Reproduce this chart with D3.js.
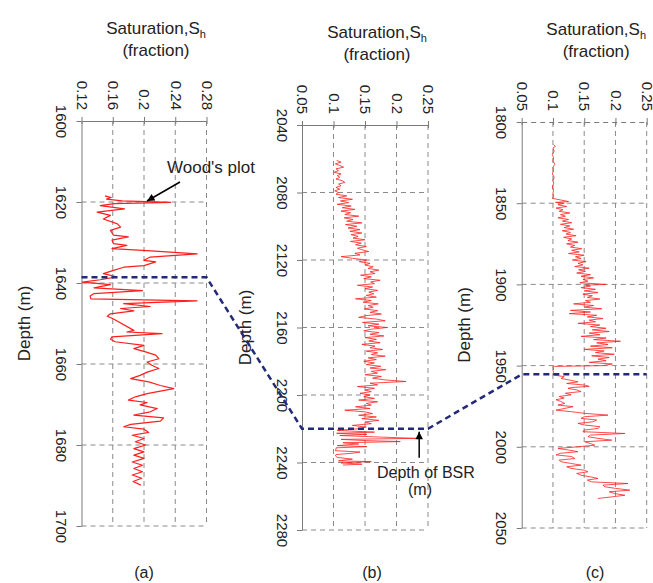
<!DOCTYPE html>
<html>
<head>
<meta charset="utf-8">
<script src="https://cdn.jsdelivr.net/npm/d3@7"></script>
<style>
  html, body { margin: 0; padding: 0; background: #fff; }
  svg text { font-family: "Liberation Sans", Arial, sans-serif; fill: #222; }
</style>
</head>
<body>
<script>
// ---- Well (a): hydrate saturation from Wood's plot ----
const depthA = [1618.5,1618.9,1619.3,1619.7,1620.1,1620.4,1620.9,1621.7,1622.5,1623.3,1624.2,1625.4,1626.2,1627.0,1628.2,1628.6,1629.4,1630.3,1630.7,1631.5,1632.0,1632.8,1633.6,1634.4,1634.8,1635.7,1636.1,1636.9,1637.7,1638.5,1639.2,1639.8,1640.4,1641.2,1641.9,1642.6,1643.2,1643.9,1644.4,1645.1,1645.8,1646.3,1646.9,1647.6,1648.2,1648.9,1651.7,1652.1,1652.5,1653.3,1653.9,1654.5,1655.4,1656.2,1657.0,1657.8,1658.7,1659.5,1660.3,1661.1,1662.0,1662.8,1663.6,1664.4,1665.3,1666.1,1666.7,1667.3,1668.1,1668.9,1669.5,1670.1,1671.0,1671.8,1672.6,1673.3,1674.1,1674.9,1675.5,1676.1,1676.9,1677.6,1678.4,1679.2,1680.0,1680.9,1681.7,1682.5,1683.3,1684.2,1685.0,1685.8,1686.6,1687.4,1688.2,1689.0,1689.9];
const satA = [0.150,0.158,0.152,0.172,0.234,0.162,0.144,0.175,0.140,0.157,0.148,0.166,0.170,0.157,0.161,0.180,0.159,0.161,0.178,0.159,0.204,0.268,0.208,0.200,0.215,0.200,0.174,0.161,0.148,0.165,0.144,0.121,0.157,0.136,0.198,0.136,0.131,0.132,0.268,0.174,0.208,0.170,0.187,0.157,0.153,0.161,0.187,0.178,0.223,0.159,0.157,0.163,0.200,0.187,0.202,0.215,0.219,0.204,0.210,0.219,0.204,0.195,0.183,0.206,0.221,0.238,0.221,0.204,0.189,0.180,0.204,0.195,0.217,0.208,0.187,0.225,0.221,0.183,0.174,0.200,0.206,0.185,0.200,0.189,0.202,0.187,0.200,0.187,0.200,0.185,0.198,0.187,0.198,0.185,0.197,0.186,0.196];

// ---- Well (b) ----
const depthB = [2061,2062,2063,2064,2065,2066,2067,2068,2069,2070,2071,2072,2073,2074,2075,2076,2077,2078,2079,2080,
  2081,2082,2083,2084,2085,2086,2087,2088,2089,2090,2091,2092,2093,2094,2095,2096,2097,2098,2099,2100,
  2101,2102,2103,2104,2105,2106,2107,2108,2109,2110,2111,2112,2113,2114,2115,2116,2117,2118,2119,2120,2121,
  2122,2123,2124,2125,2126,2127,2128,2129,2130,2131,2132,2133,2134,2135,2136,2137,2138,2139,2140,
  2141,2142,2143,2144,2145,2146,2147,2148,2149,2150,2151,2152,2153,2154,2155,2156,2157,2158,2159,2160,
  2161,2162,2163,2164,2165,2166,2167,2168,2169,2170,2171,2172,2173,2174,2175,2176,2177,2178,2179,2180,
  2181,2182,2183,2184,2185,2186,2187,2188,2189,2190,2191,2192,2193,2194,2195,2196,2197,2198,2199,2200,
  2201,2202,2203,2204,2205,2206,2207,2208,2209,2210,2211,2212,2213,2214,2215,2216,2217,2218,2219,2220,
  2221,2222,2222.7,2223.3,2224,2225,2225.7,2226.3,2227,2227.6,2228.3,2229,2230,2230.6,2231.3,2232,2233,2233.8,2234.5,2235.3,2236,2237,2238,2239,2239.5,2240.2,2241,2241.5];
const satB = [0.105,0.112,0.103,0.110,0.116,0.104,0.108,0.101,0.112,0.106,0.110,0.104,0.114,0.118,0.108,0.112,0.104,0.110,0.102,0.108,
  0.104,0.121,0.108,0.130,0.111,0.124,0.106,0.128,0.114,0.134,0.112,0.127,0.118,0.140,0.117,0.131,0.121,0.145,0.119,0.137,
  0.123,0.142,0.126,0.145,0.128,0.139,0.131,0.150,0.127,0.144,0.135,0.152,0.138,0.146,0.156,0.134,0.142,0.112,0.130,0.153,0.141,
  0.158,0.150,0.163,0.155,0.172,0.158,0.166,0.143,0.160,0.148,0.174,0.159,0.165,0.138,0.162,0.150,0.170,0.156,0.164,
  0.152,0.168,0.135,0.160,0.147,0.171,0.155,0.163,0.149,0.170,0.158,0.176,0.151,0.140,0.168,0.182,0.146,0.172,0.155,0.185,
  0.160,0.148,0.172,0.158,0.180,0.150,0.168,0.156,0.174,0.145,0.166,0.158,0.178,0.152,0.170,0.160,0.182,0.155,0.168,0.148,
  0.165,0.152,0.175,0.158,0.183,0.160,0.170,0.150,0.176,0.162,0.180,0.215,0.158,0.170,0.138,0.165,0.150,0.160,0.142,0.158,
  0.148,0.165,0.140,0.170,0.152,0.160,0.135,0.158,0.118,0.150,0.162,0.140,0.168,0.145,0.172,0.150,0.160,0.130,0.152,0.140,
  0.106,0.165,0.105,0.153,0.110,0.180,0.232,0.112,0.150,0.206,0.115,0.140,0.106,0.153,0.104,0.104,0.103,0.142,0.130,0.104,0.103,0.106,0.130,0.108,0.160,0.112,0.145,0.115];

// ---- Well (c) ----
const depthC = [1814,1815,1816,1818,1820,1822,1824,1826,1828,1830,1832,1834,1836,1838,1840,1842,1844,1846,1847,
  1848,1849,1849.5,1850,
  1851,1852,1853,1854,1855,1856,1857,1858,1859,1860,1861,1862,1863,1864,1865,1866,1867,1868,1869,1870,1871,1872,1873,1874,1875,
  1876,1877,1878,1879,1880,1881,1882,1883,1884,1885,1886,1887,1888,1889,1890,1891,1892,1893,1894,1895,1896,1897,1898,1899,
  1900,1900.5,
  1901,1902,1903,1904,1905,1906,1907,1908,1909,1910,1911,1912,1913,1914,1915,1916,1917,1918,1919,1920,1921,1922,1923,1924,1925,
  1926,1927,1928,1929,1930,1931,1932,1933,1934,1935,1936,1937,1938,1939,1940,1941,1942,1943,1944,1945,1946,1947,1948,1949,1950,
  1950.5,1951,1952,1953,1954,1955,
  1955.8,1956.8,1957.9,1959,1960,1961,1962,1962.8,1963.5,1964,1965,1966,1967,1968,1969,1970,1971,1972,1973.3,1974.3,
  1975.3,1976.3,1977.4,1978.4,1979.4,1980.5,1981.5,1982.5,1983.5,1984.6,1985.6,1986.6,1987.6,1988.7,1989.7,1990.7,1991.8,1992.8,1993.8,1994.8,
  1995.9,1996.9,1998,1999,2000,2001,2002,2003,2004,2005,2006,2007.2,2008.2,2009.2,2010.2,2011.3,2012.3,2013.3,2014.4,2015.4,
  2016.4,2017.5,2018.5,2019.5,2020.5,2021.6,2022.6,2023.6,2024.6,2025.6,2026.7,2027.7,2028.8,2029.8,2030.8,2031.8];
const satC = [0.101,0.104,0.100,0.102,0.099,0.101,0.100,0.103,0.100,0.101,0.099,0.102,0.100,0.101,0.099,0.101,0.100,0.101,0.099,
  0.112,0.125,0.104,0.118,
  0.108,0.122,0.105,0.116,0.110,0.127,0.112,0.120,0.108,0.125,0.115,0.130,0.112,0.127,0.118,0.133,0.115,0.128,0.121,0.137,0.117,0.130,0.124,0.140,0.122,
  0.135,0.128,0.146,0.130,0.142,0.125,0.150,0.136,0.145,0.131,0.153,0.140,0.148,0.135,0.158,0.141,0.152,0.138,0.160,0.145,0.165,0.148,0.156,0.143,
  0.185,0.152,
  0.160,0.145,0.168,0.150,0.172,0.148,0.163,0.155,0.175,0.152,0.160,0.133,0.165,0.150,0.178,0.128,0.160,0.126,0.170,0.155,0.180,0.158,0.168,0.140,0.175,
  0.160,0.185,0.163,0.190,0.158,0.175,0.145,0.185,0.165,0.208,0.170,0.188,0.160,0.195,0.150,0.182,0.168,0.198,0.162,0.190,0.172,0.185,0.158,0.195,0.180,
  0.102,0.100,0.101,0.100,0.101,0.100,
  0.101,0.118,0.113,0.128,0.140,0.122,0.151,0.158,0.130,0.124,0.138,0.145,0.120,0.129,0.110,0.118,0.105,0.112,0.119,0.108,
  0.132,0.120,0.105,0.130,0.151,0.188,0.150,0.145,0.170,0.164,0.140,0.151,0.175,0.172,0.150,0.148,0.215,0.160,0.156,0.172,
  0.194,0.151,0.160,0.167,0.140,0.108,0.125,0.140,0.112,0.105,0.130,0.135,0.110,0.113,0.128,0.145,0.122,0.129,0.150,0.156,
  0.138,0.145,0.160,0.172,0.155,0.162,0.220,0.180,0.183,0.200,0.223,0.190,0.199,0.215,0.195,0.172];

// ---- Axis ticks, BSR depths, labels ----
const satTicksA = [0.12, 0.16, 0.2, 0.24, 0.28];
const satTicksB = [0.05, 0.1, 0.15, 0.2, 0.25];
const satTicksC = [0.05, 0.1, 0.15, 0.2, 0.25];
const depthTicksA = [1600, 1620, 1640, 1660, 1680, 1700];
const depthTicksB = [2040, 2080, 2120, 2160, 2200, 2240, 2280];
const depthTicksC = [1800, 1850, 1900, 1950, 2000, 2050];
const bsrDepths = [1638.6, 2220, 1955.4];
const panelLabels = ["(a)", "(b)", "(c)"];

// ---- Layout of the three tracks ----
const panels = [
  { left: 81.5, right: 206.5, top: 121, bottom: 526, depth: depthA, sat: satA, satTicks: satTicksA, depthTicks: depthTicksA, lw: 1.2, topDashed: false, labelX: 144 },
  { left: 302,  right: 428,   top: 125, bottom: 530, depth: depthB, sat: satB, satTicks: satTicksB, depthTicks: depthTicksB, lw: 0.8, topDashed: false, labelX: 372 },
  { left: 521.7, right: 646.7, top: 122, bottom: 528, depth: depthC, sat: satC, satTicks: satTicksC, depthTicks: depthTicksC, lw: 0.8, topDashed: true, labelX: 595 }
];

const W = 653, H = 583;
const gridColor = "#8a8a8a";
const axisColor = "#7a7a7a";
const traceColor = "#ff1e1e";
const bsrColor = "#232a78";

const svg = d3.select("body").append("svg").attr("width", W).attr("height", H);

const defs = svg.append("defs");
defs.append("marker")
  .attr("id", "head").attr("viewBox", "0 0 10 10")
  .attr("refX", 10).attr("refY", 5)
  .attr("markerWidth", 10).attr("markerHeight", 7.5)
  .attr("markerUnits", "userSpaceOnUse").attr("orient", "auto")
  .append("path").attr("d", "M0,0 L10,5 L0,10 z").attr("fill", "#000");

panels.forEach((p, i) => {
  const x = d3.scaleLinear().domain(d3.extent(p.satTicks)).range([p.left, p.right]);
  const y = d3.scaleLinear().domain(d3.extent(p.depthTicks)).range([p.top, p.bottom]);
  p.x = x; p.y = y;
  const g = svg.append("g");

  // dashed grid (includes right and bottom frame)
  g.append("g").selectAll("line").data(p.satTicks.slice(1)).join("line")
    .attr("x1", d => x(d)).attr("x2", d => x(d))
    .attr("y1", p.top).attr("y2", p.bottom)
    .attr("stroke", gridColor).attr("stroke-width", 1).attr("stroke-dasharray", "5,4");
  g.append("g").selectAll("line").data(p.depthTicks.slice(1)).join("line")
    .attr("x1", p.left).attr("x2", p.right)
    .attr("y1", d => y(d)).attr("y2", d => y(d))
    .attr("stroke", gridColor).attr("stroke-width", 1).attr("stroke-dasharray", "5,4");

  // top saturation axis, labels turned on their side
  const top = g.append("g").attr("transform", `translate(0,${p.top})`)
    .call(d3.axisTop(x).tickValues(p.satTicks).tickSize(4).tickSizeOuter(0).tickFormat(d => String(d)));
  top.select(".domain").attr("stroke", axisColor)
    .attr("stroke-dasharray", p.topDashed ? "5,4" : null);
  top.selectAll(".tick line").attr("stroke", axisColor).attr("y1", 3);
  top.selectAll(".tick text")
    .attr("transform", "rotate(90)").attr("x", -11).attr("y", 0).attr("dy", "0.35em")
    .attr("text-anchor", "end").attr("font-size", 15).attr("fill", "#222")
    .attr("font-family", "Liberation Sans, Arial, sans-serif");

  // left depth axis
  const left = g.append("g").attr("transform", `translate(${p.left},0)`)
    .call(d3.axisLeft(y).tickValues(p.depthTicks).tickSize(5).tickSizeOuter(0).tickFormat(d => String(d)));
  left.select(".domain").attr("stroke", axisColor);
  left.selectAll(".tick line").attr("stroke", axisColor);
  left.selectAll(".tick text")
    .attr("transform", "rotate(90)").attr("x", 0).attr("y", 25.5).attr("dy", null)
    .attr("text-anchor", "middle").attr("font-size", 15).attr("fill", "#222")
    .attr("font-family", "Liberation Sans, Arial, sans-serif");

  // saturation trace
  const pts = p.depth.map((d, k) => ({ depth: d, sh: p.sat[k] }));
  g.append("path").datum(pts)
    .attr("fill", "none").attr("stroke", traceColor).attr("stroke-width", p.lw)
    .attr("stroke-linejoin", "round")
    .attr("d", d3.line().x(d => x(d.sh)).y(d => y(d.depth)));

  // titles
  const cx = (p.left + p.right) / 2 + 12;
  const t = g.append("text").attr("x", cx).attr("y", p.top - 87)
    .attr("text-anchor", "middle").attr("font-size", 17);
  t.append("tspan").text("Saturation,S");
  t.append("tspan").attr("font-size", 11).attr("dy", 4).text("h");
  g.append("text").attr("x", cx).attr("y", p.top - 65)
    .attr("text-anchor", "middle").attr("font-size", 17).text("(fraction)");

  g.append("text")
    .attr("transform", `translate(${p.left - 51.5},${(p.top + p.bottom) / 2}) rotate(-90)`)
    .attr("text-anchor", "middle").attr("font-size", 17).text("Depth (m)");

  g.append("text").attr("x", p.labelX).attr("y", 578)
    .attr("text-anchor", "middle").attr("font-size", 16).text(panelLabels[i]);
});

// BSR correlation line across the three wells
const [pa, pb, pc] = panels;
const bsrPts = [
  [pa.x(satTicksA[0]), pa.y(bsrDepths[0])], [pa.x(satTicksA[4]), pa.y(bsrDepths[0])],
  [pb.x(satTicksB[0]), pb.y(bsrDepths[1])], [pb.x(satTicksB[4]), pb.y(bsrDepths[1])],
  [pc.x(satTicksC[0]), pc.y(bsrDepths[2])], [pc.x(satTicksC[4]), pc.y(bsrDepths[2])]
];
svg.append("path")
  .attr("d", d3.line()(bsrPts))
  .attr("fill", "none").attr("stroke", bsrColor).attr("stroke-width", 2.5)
  .attr("stroke-dasharray", "6,4");

// Wood's plot annotation
const woodTip = [pa.x(0.2) + 3, pa.y(1620) - 1];
svg.append("line")
  .attr("x1", woodTip[0] + 33).attr("y1", woodTip[1] - 19)
  .attr("x2", woodTip[0]).attr("y2", woodTip[1])
  .attr("stroke", "#000").attr("stroke-width", 1.5).attr("marker-end", "url(#head)");
svg.append("text").attr("x", 167).attr("y", 173).attr("font-size", 17).text("Wood's plot");

// Depth of BSR annotation
const bsrTip = [pb.x(0.236), pb.y(bsrDepths[1]) + 3];
svg.append("line")
  .attr("x1", bsrTip[0]).attr("y1", bsrTip[1] + 26)
  .attr("x2", bsrTip[0]).attr("y2", bsrTip[1])
  .attr("stroke", "#000").attr("stroke-width", 1.5).attr("marker-end", "url(#head)");
svg.append("text").attr("x", 377).attr("y", 478).attr("font-size", 16).text("Depth of BSR");
svg.append("text").attr("x", 420).attr("y", 495).attr("text-anchor", "middle").attr("font-size", 16).text("(m)");
</script>
</body>
</html>
